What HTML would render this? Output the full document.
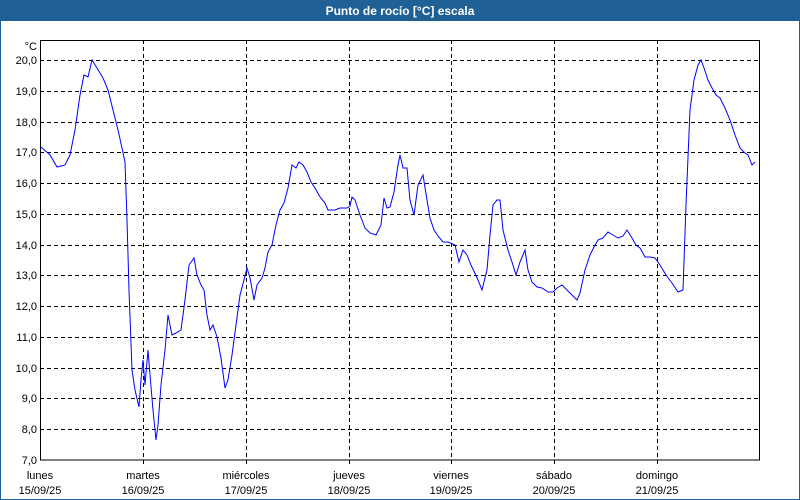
<!DOCTYPE html>
<html><head><meta charset="utf-8"><style>
html,body{margin:0;padding:0;width:800px;height:500px;overflow:hidden;background:#fff}
svg text{font-family:"Liberation Sans",sans-serif;font-size:11px;fill:#000}
</style></head><body>
<svg width="800" height="500" xmlns="http://www.w3.org/2000/svg">
<rect x="0" y="0" width="800" height="500" fill="#fff"/>
<rect x="0" y="0" width="800" height="21" fill="#1f6096"/>
<rect x="0.5" y="20.5" width="799" height="479" fill="none" stroke="#1f6096"/>
<text x="400" y="15" text-anchor="middle" style="fill:#fff;font-weight:bold;font-size:12px">Punto de rocío [°C] escala</text>
<g stroke="#000" stroke-dasharray="4,3" stroke-width="1">
<line x1="40" x2="760" y1="60.5" y2="60.5"/><line x1="40" x2="760" y1="91.5" y2="91.5"/><line x1="40" x2="760" y1="122.5" y2="122.5"/><line x1="40" x2="760" y1="152.5" y2="152.5"/><line x1="40" x2="760" y1="183.5" y2="183.5"/><line x1="40" x2="760" y1="214.5" y2="214.5"/><line x1="40" x2="760" y1="245.5" y2="245.5"/><line x1="40" x2="760" y1="275.5" y2="275.5"/><line x1="40" x2="760" y1="306.5" y2="306.5"/><line x1="40" x2="760" y1="337.5" y2="337.5"/><line x1="40" x2="760" y1="368.5" y2="368.5"/><line x1="40" x2="760" y1="398.5" y2="398.5"/><line x1="40" x2="760" y1="429.5" y2="429.5"/>
<line y1="40" y2="465" x1="143.5" x2="143.5"/><line y1="40" y2="465" x1="246.5" x2="246.5"/><line y1="40" y2="465" x1="349.5" x2="349.5"/><line y1="40" y2="465" x1="451.5" x2="451.5"/><line y1="40" y2="465" x1="554.5" x2="554.5"/><line y1="40" y2="465" x1="657.5" x2="657.5"/>
</g>
<rect x="40.5" y="40.5" width="719" height="419.5" fill="none" stroke="#000"/>
<g text-anchor="end">
<text x="37" y="50">°C</text>
<text x="37" y="64">20,0</text><text x="37" y="95">19,0</text><text x="37" y="126">18,0</text><text x="37" y="156">17,0</text><text x="37" y="187">16,0</text><text x="37" y="218">15,0</text><text x="37" y="249">14,0</text><text x="37" y="279">13,0</text><text x="37" y="310">12,0</text><text x="37" y="341">11,0</text><text x="37" y="372">10,0</text><text x="37" y="402">9,0</text><text x="37" y="433">8,0</text><text x="37" y="464">7,0</text>
</g>
<g text-anchor="middle">
<text x="40" y="479">lunes</text><text x="40" y="494">15/09/25</text>
<text x="143" y="479">martes</text><text x="143" y="494">16/09/25</text>
<text x="246" y="479">miércoles</text><text x="246" y="494">17/09/25</text>
<text x="349" y="479">jueves</text><text x="349" y="494">18/09/25</text>
<text x="451" y="479">viernes</text><text x="451" y="494">19/09/25</text>
<text x="554" y="479">sábado</text><text x="554" y="494">20/09/25</text>
<text x="657" y="479">domingo</text><text x="657" y="494">21/09/25</text>
</g>
<polyline fill="none" stroke="#0000ff" stroke-width="1" points="41,147 50,155 57,167 65,165 70,155 75,130 80,95 84,75 88,77 92,60 97,68 103,78 108,90 113,110 118,130 122,148 125,162 127,220 129,290 132,370 135,390 139,407 141,380 143,360 145,385 148,350 150,375 153,410 156,440 158,425 161,385 165,350 168,315 172,335 176,333 181,330 185,300 189,265 194,258 197,275 201,285 204,290 207,315 210,330 213,325 217,337 221,358 225,388 228,380 232,355 236,325 240,295 244,280 247,268 250,278 254,300 257,285 262,278 265,268 268,252 272,245 276,225 280,210 284,203 288,188 292,165 296,168 299,162 303,165 307,172 311,182 315,188 320,197 325,203 328,210 335,210 340,208 347,208 350,206 352,197 355,200 360,215 365,228 370,233 376,235 381,225 384,198 387,208 390,207 394,192 398,165 400,155 403,168 407,168 410,200 414,215 418,185 423,175 427,200 430,218 434,230 438,236 443,242 448,242 455,245 459,262 463,250 467,255 471,265 478,280 482,290 487,270 490,235 493,205 497,200 500,200 503,230 508,250 512,262 516,275 520,262 525,250 528,270 532,282 537,287 542,288 548,292 553,292 557,288 562,285 567,290 572,295 577,300 580,293 585,270 590,255 594,247 598,240 603,238 608,232 613,235 618,238 623,236 627,230 632,238 636,245 640,248 645,257 650,257 655,258 660,265 666,275 672,283 678,292 683,290 686,205 690,110 694,80 698,65 701,60 704,68 708,80 712,88 716,95 720,98 725,108 730,120 735,135 740,148 745,153 748,155 752,165 755,162"/>
</svg>
</body></html>
